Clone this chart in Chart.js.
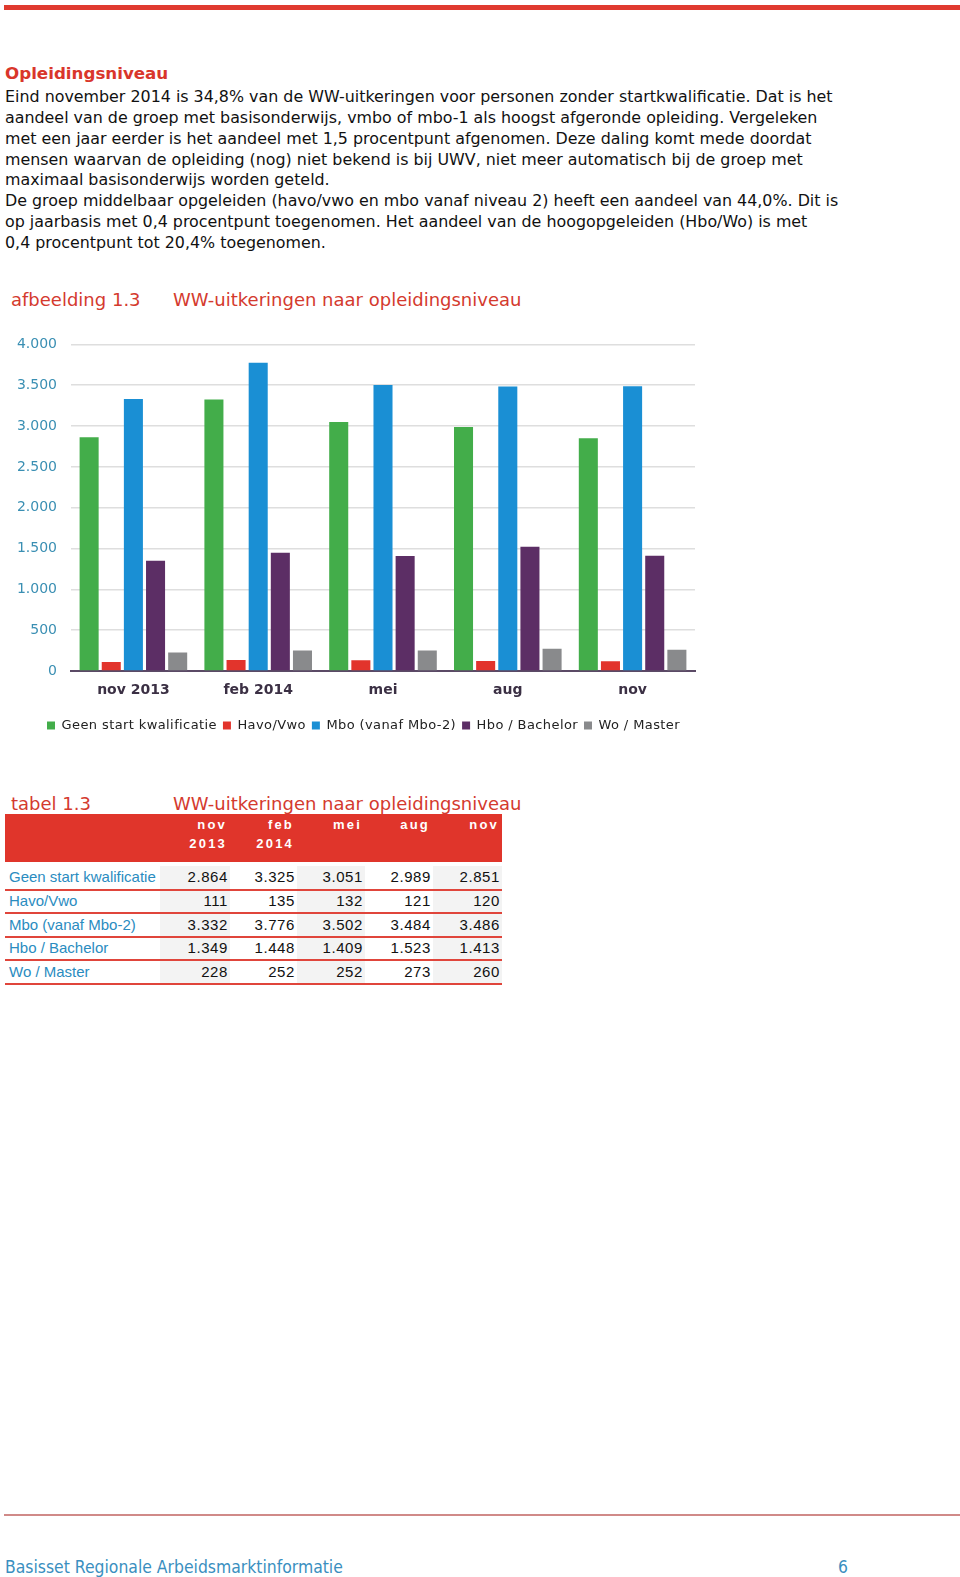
<!DOCTYPE html>
<html>
<head>
<meta charset="utf-8">
<script src="https://cdn.jsdelivr.net/npm/chart.js@4.4.1/dist/chart.umd.min.js"></script>
<style>
  html, body { margin:0; padding:0; background:#fff; }
  body { width:960px; height:1577px; position:relative; overflow:hidden; font-family:"DejaVu Sans", Verdana, sans-serif; }
  .abs { position:absolute; white-space:nowrap; }
  #topbar { position:absolute; left:4px; top:5px; width:956px; height:5px; background:#e03a2f; }
  #heading { left:5px; top:62px; font-family:"DejaVu Sans",sans-serif; font-weight:bold; font-size:16.7px; color:#d9362b; line-height:22px; }
  #body { left:5px; top:87px; font-family:"DejaVu Sans",sans-serif; font-size:15.88px; line-height:20.85px; color:#111; }
  .ctitle { font-size:18px; color:#d43a2e; line-height:22px; }
  #chartbox { position:absolute; left:0; top:322px; width:727px; height:420px; }
  #tbl { position:absolute; left:5px; top:814px; border-collapse:collapse; font-family:"Liberation Sans", Arial, sans-serif; }
  #tbl th { background:#e0352b; color:#fff; font-weight:bold; font-size:13px; letter-spacing:2.2px; text-align:right; vertical-align:top; padding:0 3px 0 0; line-height:19px; height:48px; box-sizing:border-box; padding-top:1px; white-space:nowrap; }
  #tbl td { font-size:15px; letter-spacing:0.6px; height:23.5px; padding:0 2px 0 0; box-sizing:border-box; border-bottom:2px solid #e0453b; text-align:right; color:#111; line-height:20px; white-space:nowrap; }
  #tbl td.lab { text-align:left; color:#2a8cbf; letter-spacing:0; padding-left:4px; }
  #tbl td.sh { background:#f3f3f3; }
  #tbl tr.gap td { height:4px; border:none; padding:0; background:#fff; }
  #footline { position:absolute; left:4px; top:1514px; width:956px; height:2px; background:#d08a88; }
  #foot { left:5px; top:1556px; font-family:"DejaVu Sans Condensed","DejaVu Sans",sans-serif; font-size:17.4px; color:#3a8fc0; line-height:22px; }
  #pnum { left:838px; top:1556px; font-family:"DejaVu Sans Condensed","DejaVu Sans",sans-serif; font-size:17.4px; color:#3a8fc0; line-height:22px; }
</style>
</head>
<body>
<div id="topbar"></div>
<div id="heading" class="abs">Opleidingsniveau</div>
<div id="body" class="abs">Eind november 2014 is 34,8% van de WW-uitkeringen voor personen zonder startkwalificatie. Dat is het<br>aandeel van de groep met basisonderwijs, vmbo of mbo-1 als hoogst afgeronde opleiding. Vergeleken<br>met een jaar eerder is het aandeel met 1,5 procentpunt afgenomen. Deze daling komt mede doordat<br>mensen waarvan de opleiding (nog) niet bekend is bij UWV, niet meer automatisch bij de groep met<br>maximaal basisonderwijs worden geteld.<br>De groep middelbaar opgeleiden (havo/vwo en mbo vanaf niveau 2) heeft een aandeel van 44,0%. Dit is<br>op jaarbasis met 0,4 procentpunt toegenomen. Het aandeel van de hoogopgeleiden (Hbo/Wo) is met<br>0,4 procentpunt tot 20,4% toegenomen.</div>

<div class="abs ctitle" style="left:11px; top:289px;">afbeelding 1.3</div>
<div class="abs ctitle" style="left:173px; top:289px;">WW-uitkeringen naar opleidingsniveau</div>
<div id="chartbox"><canvas id="c" width="727" height="420"></canvas></div>

<div class="abs ctitle" style="left:11px; top:793px;">tabel 1.3</div>
<div class="abs ctitle" style="left:173px; top:793px;">WW-uitkeringen naar opleidingsniveau</div>
<table id="tbl"></table>

<div id="footline"></div>
<div id="foot" class="abs">Basisset Regionale Arbeidsmarktinformatie</div>
<div id="pnum" class="abs">6</div>

<script>
const categories = ['nov 2013', 'feb 2014', 'mei', 'aug', 'nov'];
const seriesNames = ['Geen start kwalificatie', 'Havo/Vwo', 'Mbo (vanaf Mbo-2)', 'Hbo / Bachelor', 'Wo / Master'];
const geenStart = [2864, 3325, 3051, 2989, 2851];
const havoVwo = [111, 135, 132, 121, 120];
const mbo = [3332, 3776, 3502, 3484, 3486];
const hboBachelor = [1349, 1448, 1409, 1523, 1413];
const woMaster = [228, 252, 252, 273, 260];
const yTicks = [0, 500, 1000, 1500, 2000, 2500, 3000, 3500, 4000];
const colors = ['#43ad4a', '#e2342c', '#1a8fd4', '#5c2e65', '#898a8c'];

const seriesValues = [geenStart, havoVwo, mbo, hboBachelor, woMaster];

function fmt(v) {
  return String(v).replace(/\B(?=(\d{3})+(?!\d))/g, '.');
}

const chart = new Chart(document.getElementById('c'), {
  type: 'bar',
  data: {
    labels: categories,
    datasets: seriesNames.map((n, i) => ({
      label: n,
      data: seriesValues[i],
      backgroundColor: colors[i],
      borderWidth: 0,
      categoryPercentage: 0.887,
      barPercentage: 0.86
    }))
  },
  options: {
    responsive: false,
    animation: false,
    layout: { padding: { top: 3, right: 32, left: 0, bottom: 0 } },
    plugins: {
      tooltip: { enabled: false },
      legend: {
        position: 'bottom',
        labels: {
          boxWidth: 8, boxHeight: 8, padding: 6,
          color: '#222',
          font: { family: 'DejaVu Sans', size: 13 }
        }
      }
    },
    scales: {
      x: {
        grid: { display: false, drawTicks: false },
        border: { display: true, color: '#5b4a66', width: 2 },
        ticks: { color: '#3b3044', font: { family: 'DejaVu Sans', size: 14, weight: 'bold' }, padding: 11, maxRotation: 0 },
        afterFit: s => { s.height = 42; }
      },
      y: {
        min: 0, max: 4000,
        afterBuildTicks: s => { s.ticks = yTicks.map(v => ({ value: v })); },
        grid: { color: '#dedede', lineWidth: 1.5, drawTicks: false },
        border: { display: false },
        ticks: { color: '#3a8fb3', font: { family: 'DejaVu Sans', size: 14 }, padding: 14, callback: v => fmt(v) },
        afterFit: s => { s.width = 71; }
      }
    }
  }
});

// legend: slight letter spacing and centring under the page column
(function () {
  const lg = chart.legend;
  if (!lg) return;
  const ctx = chart.ctx;
  const origFit = lg.fit.bind(lg);
  const origDraw = lg.draw.bind(lg);
  lg.fit = function () { ctx.save(); ctx.letterSpacing = '0.4px'; origFit(); ctx.restore(); };
  lg.draw = function () { ctx.save(); ctx.translate(16, 0); ctx.letterSpacing = '0.4px'; origDraw(); ctx.restore(); };
  chart.update();
})();

// table
const tbl = document.getElementById('tbl');
const colW = [155, 70, 67, 68, 68, 69];
let h = '<tr><th style="width:' + colW[0] + 'px"></th>';
categories.forEach((c, i) => {
  const parts = c.split(' ');
  h += '<th style="width:' + colW[i + 1] + 'px">' + parts[0] + '<br>' + (parts[1] || '') + '</th>';
});
h += '</tr><tr class="gap"><td colspan="6"></td></tr>';
seriesNames.forEach((n, r) => {
  h += '<tr><td class="lab">' + n + '</td>';
  seriesValues[r].forEach((v, i) => {
    h += '<td class="' + (i % 2 === 0 ? 'sh' : '') + '">' + fmt(v) + '</td>';
  });
  h += '</tr>';
});
tbl.innerHTML = h;
</script>
</body>
</html>
